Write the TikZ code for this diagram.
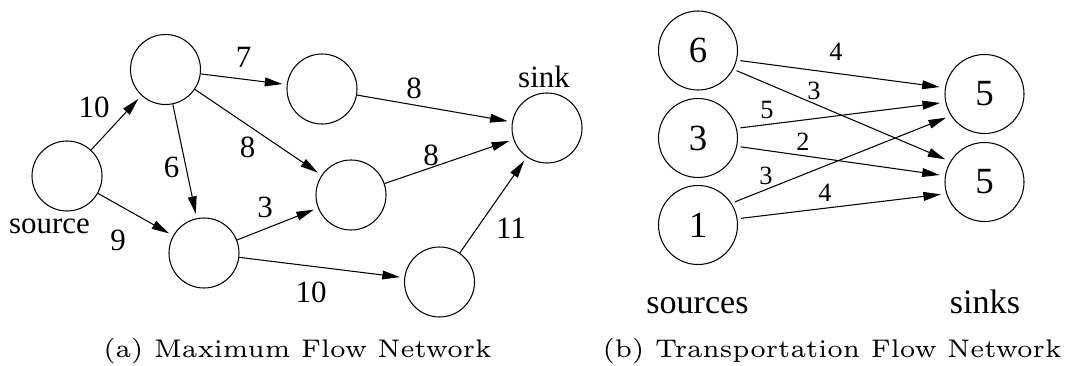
\documentclass[tikz,border=0pt]{standalone}
\usepackage{fontspec}
\newfontfamily\timesf{Liberation Serif}
\usetikzlibrary{arrows.meta}

\begin{document}
\begin{tikzpicture}[
  line width=0.6pt,
  vtx/.style={draw, circle, minimum size=1.4cm, inner sep=0pt},
  bigvtx/.style={draw, circle, minimum size=1.58cm, inner sep=0pt,
    font=\timesf\fontsize{21}{21}\selectfont},
  flowedge/.style={-{Triangle[length=10pt,width=5pt]}, shorten >=2.5pt},
  lbl/.style={font=\timesf\fontsize{17.6}{18}\selectfont, inner sep=0pt},
  slbl/.style={font=\timesf\fontsize{15}{15}\selectfont, inner sep=0pt},
  biglbl/.style={font=\timesf\fontsize{19.4}{20}\selectfont, inner sep=0pt, anchor=base},
  captxt/.style={font=\fontsize{6}{7}\selectfont, scale=2.42, anchor=base, inner sep=0pt}]
  \useasboundingbox (0,0) rectangle (21.3,7.3);

  % (a) maximum flow network
  \node[vtx] (src) at (1.34,3.78) {};
  \node[vtx] (A) at (3.31,5.91) {};
  \node[vtx] (B) at (4.08,2.24) {};
  \node[vtx] (C) at (6.44,5.52) {};
  \node[vtx] (D) at (7.02,3.40) {};
  \node[vtx] (E) at (8.79,1.66) {};
  \node[vtx] (snk) at (10.94,4.74) {};

  \node[lbl, anchor=base] (srclbl) at (0.99,2.63) {source};
  \node[lbl, anchor=base] (snklbl) at (10.88,5.55) {sink};

  \draw[flowedge] (src) -- (A);
  \draw[flowedge] (src) -- (B);
  \draw[flowedge] (A) -- (C);
  \draw[flowedge] (A) -- (B);
  \draw[flowedge] (A) -- (D);
  \draw[flowedge] (B) -- (D);
  \draw[flowedge] (B) -- (E);
  \draw[flowedge] (C) -- (snk);
  \draw[flowedge] (D) -- (snk);
  \draw[flowedge] (E) -- (snk);

  \node[lbl] (wsa) at (1.88,5.16) {10};
  \node[lbl] (wsb) at (2.36,2.50) {9};
  \node[lbl] (wac) at (4.87,6.16) {7};
  \node[lbl] (wab) at (3.43,3.96) {6};
  \node[lbl] (wad) at (4.95,4.36) {8};
  \node[lbl] (wbd) at (5.30,3.16) {3};
  \node[lbl] (wbe) at (6.22,1.46) {10};
  \node[lbl] (wct) at (8.28,5.54) {8};
  \node[lbl] (wdt) at (8.62,4.20) {8};
  \node[lbl] (wet) at (10.22,2.74) {11};

  % (b) transportation flow network
  \node[bigvtx] (s6) at (13.96,6.29) {6};
  \node[bigvtx] (s3) at (13.96,4.54) {3};
  \node[bigvtx] (s1) at (13.96,2.80) {1};
  \node[bigvtx] (t1) at (19.69,5.42) {5};
  \node[bigvtx] (t2) at (19.69,3.66) {5};

  \begin{scope}[flowedge, shorten <=2pt, shorten >=3pt]
    \draw (s6.-14) -- (t1.171);
    \draw (s6.-28) -- (t2.149);
    \draw (s3.14) -- (t1.-168);
    \draw (s3.-12) -- (t2.171);
    \draw (s1.33) -- (t1.-147);
    \draw (s1.9) -- (t2.-163);
  \end{scope}

  \node[slbl] (w61) at (16.72,6.26) {4};
  \node[slbl] (w62) at (16.28,5.48) {3};
  \node[slbl] (w31) at (15.34,5.10) {5};
  \node[slbl] (w32) at (16.06,4.46) {2};
  \node[slbl] (w11) at (15.32,3.78) {3};
  \node[slbl] (w12) at (16.50,3.44) {4};

  \node[biglbl] (srcs) at (13.95,1.04) {sources};
  \node[biglbl] (snks) at (19.70,1.04) {sinks};

  \node[captxt] (capa) at (5.95,0.16) {(a) Maximum Flow Network};
  \node[captxt] (capb) at (16.64,0.16) {(b) Transportation Flow Network};
\end{tikzpicture}
\end{document}
